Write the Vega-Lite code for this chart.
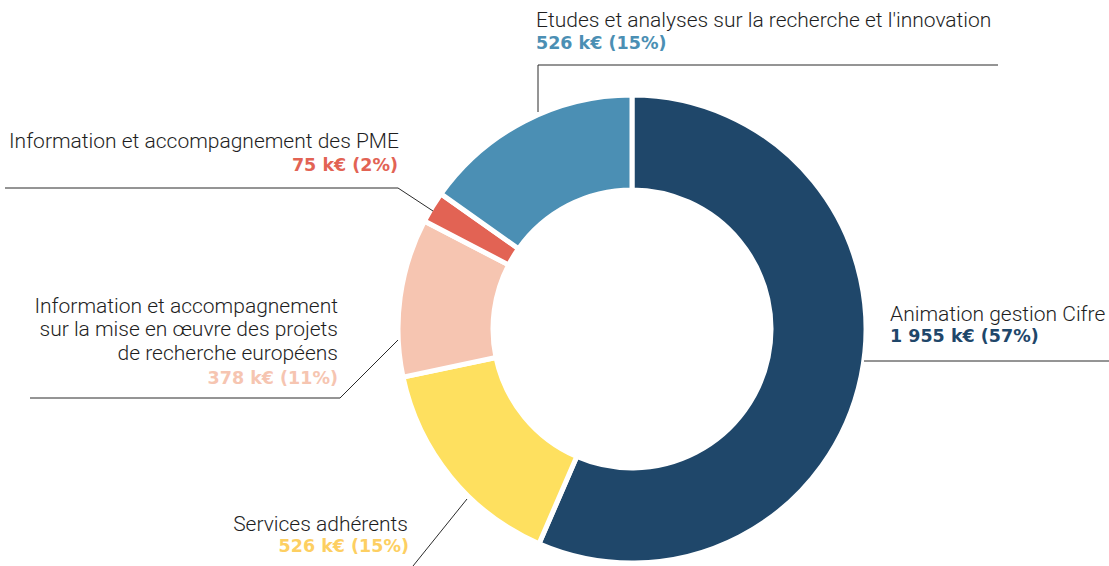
{
  "$schema": "https://vega.github.io/schema/vega-lite/v6.json",
  "width": 1109,
  "height": 566,
  "padding": 0,
  "autosize": {"type": "none"},
  "background": "white",
  "config": {"view": {"stroke": null}, "axis": {"disable": true}},
  "resolve": {"scale": {"color": "independent"}},
  "datasets": {
    "slices": [
      {"cle": "cifre", "poste": "Animation gestion Cifre", "k": 1955, "rang": 1},
      {"cle": "services", "poste": "Services adhérents", "k": 526, "rang": 2},
      {"cle": "europe", "poste": "Information et accompagnement sur la mise en œuvre des projets de recherche européens", "k": 378, "rang": 3},
      {"cle": "pme", "poste": "Information et accompagnement des PME", "k": 75, "rang": 4},
      {"cle": "etudes", "poste": "Etudes et analyses sur la recherche et l'innovation", "k": 526, "rang": 5}
    ],
    "labels": [
      {"cle": "etudes", "texte": "Etudes et analyses sur la recherche et l'innovation", "style": "nom", "cote": "gauche", "px": 536, "py": 27},
      {"cle": "etudes", "texte": "526 k€ (15%)", "style": "valeur", "cote": "gauche", "px": 536, "py": 49},
      {"cle": "cifre", "texte": "Animation gestion Cifre", "style": "nom", "cote": "gauche", "px": 890, "py": 321},
      {"cle": "cifre", "texte": "1 955 k€ (57%)", "style": "valeur", "cote": "gauche", "px": 890, "py": 342},
      {"cle": "pme", "texte": "Information et accompagnement des PME", "style": "nom", "cote": "droite", "px": 399, "py": 148},
      {"cle": "pme", "texte": "75 k€ (2%)", "style": "valeur", "cote": "droite", "px": 398, "py": 171},
      {"cle": "europe", "texte": "Information et accompagnement", "style": "nom", "cote": "droite", "px": 338, "py": 313},
      {"cle": "europe", "texte": "sur la mise en œuvre des projets", "style": "nom", "cote": "droite", "px": 338, "py": 336},
      {"cle": "europe", "texte": "de recherche européens", "style": "nom", "cote": "droite", "px": 338, "py": 360},
      {"cle": "europe", "texte": "378 k€ (11%)", "style": "valeur", "cote": "droite", "px": 338, "py": 384},
      {"cle": "services", "texte": "Services adhérents", "style": "nom", "cote": "droite", "px": 408, "py": 531},
      {"cle": "services", "texte": "526 k€ (15%)", "style": "valeur", "cote": "droite", "px": 409, "py": 552}
    ],
    "reperes": [
      {"trait": "etudes", "ordre": 1, "px": 538, "py": 112},
      {"trait": "etudes", "ordre": 2, "px": 538, "py": 65},
      {"trait": "etudes", "ordre": 3, "px": 998, "py": 65},
      {"trait": "cifre", "ordre": 1, "px": 864, "py": 361},
      {"trait": "cifre", "ordre": 2, "px": 1109, "py": 361},
      {"trait": "pme", "ordre": 1, "px": 433, "py": 211},
      {"trait": "pme", "ordre": 2, "px": 398, "py": 188},
      {"trait": "pme", "ordre": 3, "px": 5, "py": 188},
      {"trait": "europe", "ordre": 1, "px": 398, "py": 340},
      {"trait": "europe", "ordre": 2, "px": 340, "py": 398},
      {"trait": "europe", "ordre": 3, "px": 30, "py": 398},
      {"trait": "services", "ordre": 1, "px": 467, "py": 499},
      {"trait": "services", "ordre": 2, "px": 413, "py": 566}
    ]
  },
  "layer": [
    {
      "data": {"name": "slices"},
      "mark": {"type": "arc", "radius": 234, "radius2": 139, "stroke": "white", "strokeWidth": 5},
      "encoding": {
        "x": {"datum": 632, "type": "quantitative", "scale": {"domain": [0, 1109], "nice": false, "zero": false}, "axis": null},
        "y": {"datum": 329, "type": "quantitative", "scale": {"domain": [0, 566], "nice": false, "zero": false, "reverse": true}, "axis": null},
        "theta": {"field": "k", "type": "quantitative", "stack": true},
        "order": {"field": "rang", "type": "quantitative"},
        "color": {"field": "cle", "type": "nominal", "legend": null,
          "scale": {"domain": ["cifre", "services", "europe", "pme", "etudes"],
                    "range": ["#1f476a", "#fee05f", "#f6c5b1", "#e26354", "#4b8fb4"]}}
      }
    },
    {
      "data": {"name": "reperes"},
      "mark": {"type": "line", "color": "#2b2b2b", "strokeWidth": 1},
      "encoding": {
        "x": {"field": "px", "type": "quantitative", "axis": null},
        "y": {"field": "py", "type": "quantitative", "axis": null},
        "detail": {"field": "trait"},
        "order": {"field": "ordre", "type": "quantitative"}
      }
    },
    {
      "data": {"name": "labels"},
      "transform": [{"filter": "datum.style === 'nom' && datum.cote === 'gauche'"}],
      "mark": {"type": "text", "align": "left", "baseline": "alphabetic", "font": "Roboto", "fontWeight": 300, "fontSize": 21, "color": "#1e1e1e"},
      "encoding": {
        "x": {"field": "px", "type": "quantitative", "axis": null},
        "y": {"field": "py", "type": "quantitative", "axis": null},
        "text": {"field": "texte"}
      }
    },
    {
      "data": {"name": "labels"},
      "transform": [{"filter": "datum.style === 'nom' && datum.cote === 'droite'"}],
      "mark": {"type": "text", "align": "right", "baseline": "alphabetic", "font": "Roboto", "fontWeight": 300, "fontSize": 21, "color": "#1e1e1e"},
      "encoding": {
        "x": {"field": "px", "type": "quantitative", "axis": null},
        "y": {"field": "py", "type": "quantitative", "axis": null},
        "text": {"field": "texte"}
      }
    },
    {
      "data": {"name": "labels"},
      "transform": [{"filter": "datum.style === 'valeur' && datum.cote === 'gauche'"}],
      "mark": {"type": "text", "align": "left", "baseline": "alphabetic", "font": "DejaVu Sans", "fontWeight": "bold", "fontSize": 17.5},
      "encoding": {
        "x": {"field": "px", "type": "quantitative", "axis": null},
        "y": {"field": "py", "type": "quantitative", "axis": null},
        "text": {"field": "texte"},
        "color": {"field": "cle", "type": "nominal", "legend": null,
          "scale": {"domain": ["cifre", "services", "europe", "pme", "etudes"],
                    "range": ["#1f476a", "#fdcf62", "#f6c5b1", "#e26354", "#4b8fb4"]}}
      }
    },
    {
      "data": {"name": "labels"},
      "transform": [{"filter": "datum.style === 'valeur' && datum.cote === 'droite'"}],
      "mark": {"type": "text", "align": "right", "baseline": "alphabetic", "font": "DejaVu Sans", "fontWeight": "bold", "fontSize": 17.5},
      "encoding": {
        "x": {"field": "px", "type": "quantitative", "axis": null},
        "y": {"field": "py", "type": "quantitative", "axis": null},
        "text": {"field": "texte"},
        "color": {"field": "cle", "type": "nominal", "legend": null,
          "scale": {"domain": ["cifre", "services", "europe", "pme", "etudes"],
                    "range": ["#1f476a", "#fdcf62", "#f6c5b1", "#e26354", "#4b8fb4"]}}
      }
    }
  ]
}
